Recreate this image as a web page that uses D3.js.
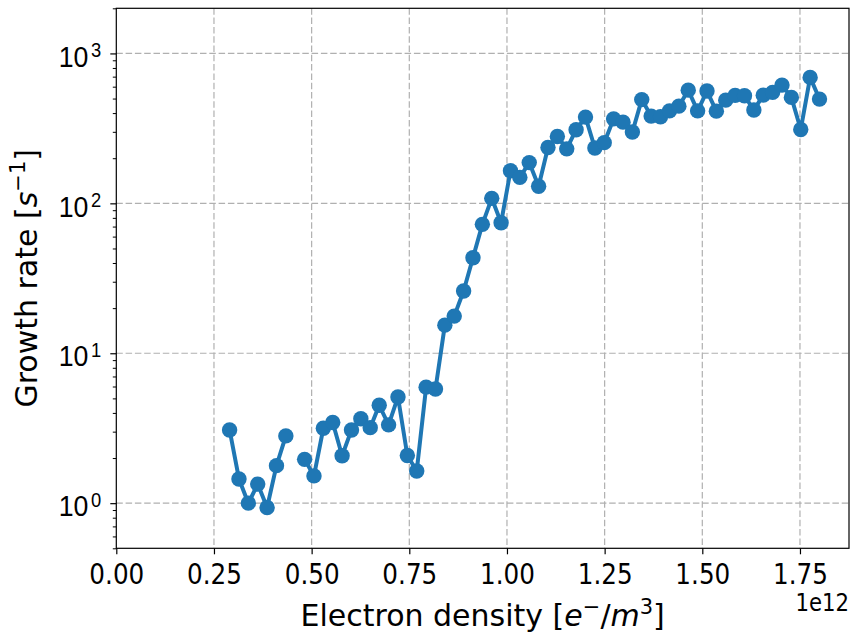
<!DOCTYPE html>
<html>
<head>
<meta charset="utf-8">
<script src="https://cdn.jsdelivr.net/npm/d3@7"></script>
<style>
  html, body { margin: 0; padding: 0; background: #fff; }
  svg { display: block; font-family: "DejaVu Sans", sans-serif; }
</style>
</head>
<body>
<svg id="chart" width="850" height="632"></svg>
<script>
// Electron density (units of 1e12 e-/m^3)
const density = [0.290,0.314,0.338,0.362,0.386,0.410,0.434,0.458,0.482,0.506,
  0.530,0.554,0.578,0.602,0.626,0.650,0.673,0.697,0.721,0.745,
  0.769,0.793,0.817,0.841,0.865,0.889,0.913,0.937,0.961,0.985,
  1.009,1.033,1.057,1.081,1.105,1.129,1.153,1.177,1.201,1.225,
  1.249,1.273,1.297,1.321,1.345,1.369,1.393,1.416,1.440,1.464,
  1.488,1.512,1.536,1.560,1.584,1.608,1.632,1.656,1.680,1.704,
  1.728,1.752,1.776,1.800];
// Growth rate (s^-1); null = missing point (line break)
const growthRate = [3.08,1.45,1.00,1.34,0.935,1.78,2.81,null,1.96,1.52,
  3.16,3.45,2.07,3.08,3.66,3.19,4.50,3.33,5.11,2.08,
  1.64,5.94,5.78,15.4,17.7,26.0,43.4,72.4,108,74.3,
  165,149,187,130,236,279,231,310,376,234,
  254,366,348,299,492,382,378,414,445,569,
  414,561,412,488,525,522,419,527,550,615,
  509,311,692,496];
const xTicks = [0.00,0.25,0.50,0.75,1.00,1.25,1.50,1.75];
const yTicks = [1,10,100,1000];
const yTickExp = ["0","1","2","3"];

(function() {
const color = "#1f77b4";
const pL = 116.3, pR = 849, pT = 8.3, pB = 548.3;
const FS = 29, SX = 0.85, SY = 0.92, LFS = 30;

const svg = d3.select("#chart");
const xmax = 1.8 + 0.05 * (1.8 - 0.29);
const x = d3.scaleLinear().domain([0, xmax]).range([pL, pR]);
const y = d3.scaleLog().domain([0.5, 2000]).range([pB, pT]);

// grid
const grid = svg.append("g").attr("stroke", "#b0b0b0").attr("stroke-width", 1.2)
  .attr("stroke-dasharray", "6.5,2.8");
grid.selectAll(".gx").data(xTicks.filter(d => d > 0)).enter().append("line")
  .attr("x1", d => x(d)).attr("x2", d => x(d)).attr("y1", pT).attr("y2", pB);
grid.selectAll(".gy").data(yTicks).enter().append("line")
  .attr("y1", d => y(d)).attr("y2", d => y(d)).attr("x1", pL).attr("x2", pR);

// data
const pts = density.map((d, i) => ({x: d, y: growthRate[i]}));
const line = d3.line().defined(d => d.y != null).x(d => x(d.x)).y(d => y(d.y));
svg.append("path").datum(pts).attr("d", line).attr("fill", "none")
  .attr("stroke", color).attr("stroke-width", 4).attr("stroke-linejoin", "round");
svg.append("g").selectAll("circle").data(pts.filter(d => d.y != null)).enter()
  .append("circle").attr("cx", d => x(d.x)).attr("cy", d => y(d.y)).attr("r", 7.7)
  .attr("fill", color);

// x axis
const xAxis = d3.axisBottom(x).tickValues(xTicks).tickFormat(d3.format(".2f"))
  .tickSize(6).tickPadding(5);
const gx = svg.append("g").attr("transform", `translate(0,${pB})`).call(xAxis);
gx.select(".domain").remove();
gx.selectAll("line").attr("stroke", "#000").attr("stroke-width", 1.2);
gx.selectAll("text").attr("font-size", FS).attr("fill", "#000")
  .attr("font-family", "DejaVu Sans").attr("dy", null).attr("y", 36)
  .attr("transform", `scale(${SX},1)`);

// minor y ticks
const minor = [];
[0.1,1,10,100,1000].forEach(b => { for (let k = 2; k <= 9; k++) { const v = b*k; if (v >= 0.5 && v <= 2000) minor.push(v); } });
const yAxisMinor = d3.axisLeft(y).tickValues(minor).tickFormat("").tickSize(3.5);
const gym = svg.append("g").attr("transform", `translate(${pL},0)`).call(yAxisMinor);
gym.select(".domain").remove();
gym.selectAll("line").attr("stroke", "#000").attr("stroke-width", 1.0);

const yAxis = d3.axisLeft(y).tickValues(yTicks).tickFormat("").tickSize(6);
const gy = svg.append("g").attr("transform", `translate(${pL},0)`).call(yAxis);
gy.select(".domain").remove();
gy.selectAll("line").attr("stroke", "#000").attr("stroke-width", 1.2);
gy.selectAll(".tick").each(function(d, i) {
  const t = d3.select(this).append("text").attr("x", -15 / SY).attr("y", 12.7)
    .attr("text-anchor", "end").attr("fill", "#000").attr("font-size", FS)
    .attr("transform", `scale(${SY},1)`);
  t.append("tspan").text("10");
  t.append("tspan").attr("dx", 3).attr("dy", -9.5).attr("font-size", 20).text(yTickExp[i]);
});

// frame
svg.append("rect").attr("x", pL).attr("y", pT).attr("width", pR - pL)
  .attr("height", pB - pT).attr("fill", "none").attr("stroke", "#000").attr("stroke-width", 1.2);

// x label
const xl = svg.append("text").attr("transform", `translate(${(pL+pR)/2},626)`)
  .attr("text-anchor", "middle").attr("font-size", LFS).attr("fill", "#000");
xl.append("tspan").text("Electron density [");
xl.append("tspan").attr("font-style", "italic").text("e");
xl.append("tspan").attr("dy", -12).attr("font-size", 21).text("\u2212");
xl.append("tspan").attr("dy", 12).text("/");
xl.append("tspan").attr("font-style", "italic").text("m");
xl.append("tspan").attr("dy", -12).attr("font-size", 21).text("3");
xl.append("tspan").attr("dy", 12).text("]");

// offset text
svg.append("text").attr("transform", `translate(849,611) scale(${SX},1)`)
  .attr("text-anchor", "end").attr("font-size", 25).attr("fill", "#000").text("1e12");

// y label
const yl = svg.append("text").attr("transform", `translate(37,${(pT+pB)/2}) rotate(-90)`)
  .attr("text-anchor", "middle").attr("font-size", LFS).attr("fill", "#000");
yl.append("tspan").text("Growth rate [");
yl.append("tspan").attr("font-style", "italic").text("s");
yl.append("tspan").attr("dy", -12).attr("font-size", 21).text("\u22121");
yl.append("tspan").attr("dy", 12).text("]");
})();
</script>
</body>
</html>
